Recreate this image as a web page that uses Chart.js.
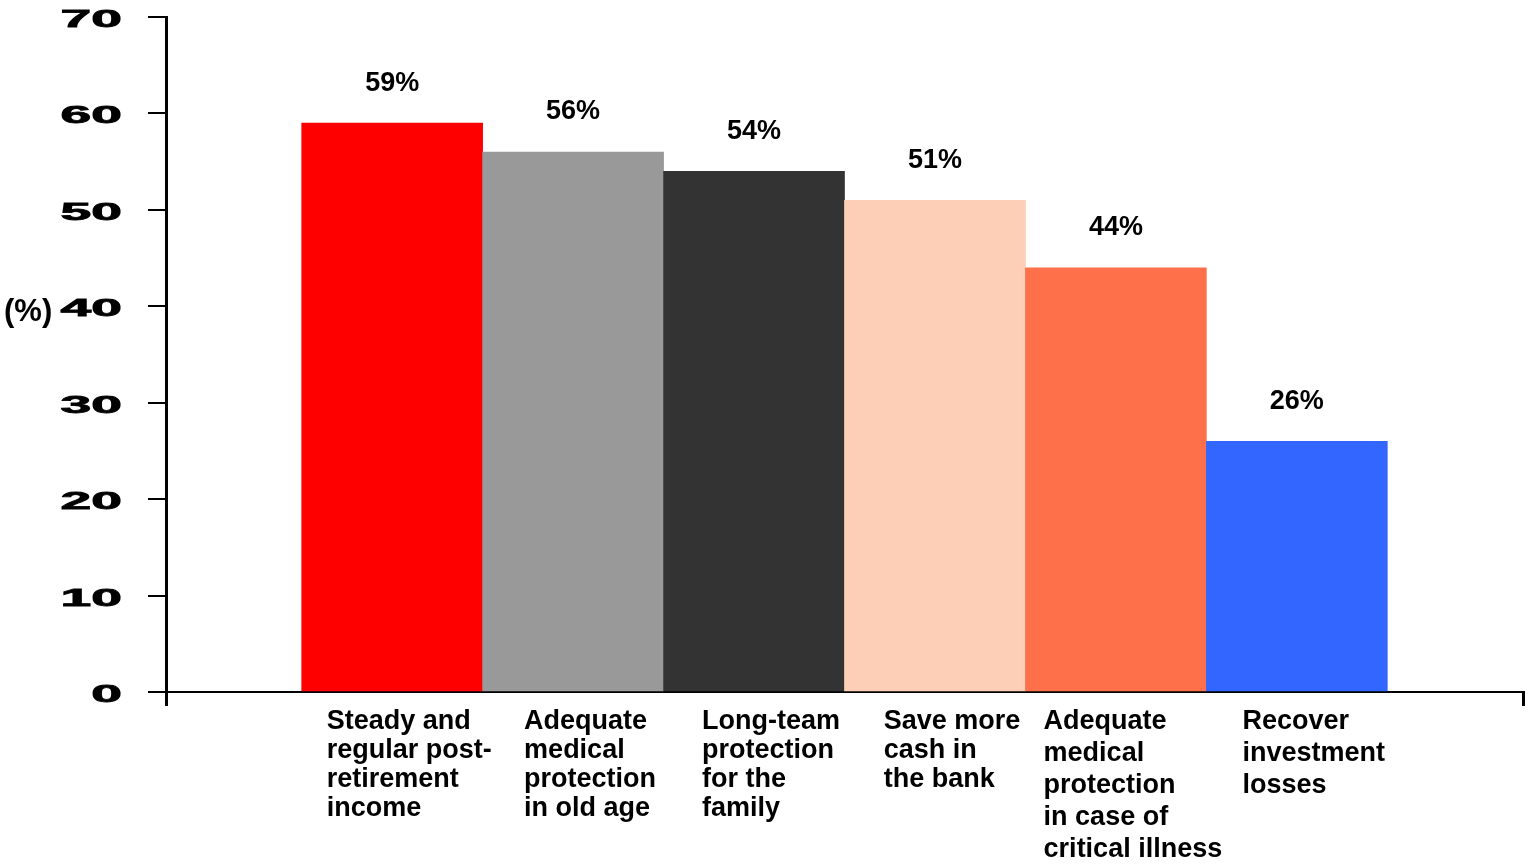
<!DOCTYPE html>
<html>
<head>
<meta charset="utf-8">
<script src="https://cdn.jsdelivr.net/npm/chart.js@4"></script>
<style>
  html, body { margin: 0; padding: 0; background: #fff; }
  #wrap { width: 1529px; height: 867px; }
</style>
</head>
<body>
<div id="wrap"><canvas id="goalsChart"></canvas></div>
<script>
const categories = [
  ["Steady and", "regular post-", "retirement", "income"],
  ["Adequate", "medical", "protection", "in old age"],
  ["Long-team", "protection", "for the", "family"],
  ["Save more", "cash in", "the bank"],
  ["Adequate", "medical", "protection", "in case of", "critical illness"],
  ["Recover", "investment", "losses"],
];
const shares = [59, 56, 54, 51, 44, 26];
const yTicks = [0, 10, 20, 30, 40, 50, 60, 70];
const barColors = ["#ff0000", "#999999", "#333333", "#fdcfb7", "#fd704a", "#3366ff"];

const fontFamily = '"Liberation Sans", Arial, Helvetica, sans-serif';
const labelLeading = [29, 29, 29, 29, 32, 32];

// tick numbers, value labels, category captions and the unit label
const textPlugin = {
  id: "chartText",
  afterDraw(chart) {
    const ctx = chart.ctx;
    const yScale = chart.scales.y;
    const area = chart.chartArea;
    ctx.save();
    ctx.fillStyle = "#000";
    ctx.strokeStyle = "#000";

    // wide y tick numbers
    ctx.font = "bold 24px " + fontFamily;
    ctx.textAlign = "right";
    ctx.textBaseline = "alphabetic";
    ctx.lineWidth = 0.8;
    yTicks.forEach((v) => {
      const y = yScale.getPixelForValue(v);
      ctx.save();
      ctx.translate(122, y + 10);
      ctx.scale(2.3, 1);
      ctx.fillText(String(v), 0, 0);
      ctx.strokeText(String(v), 0, 0);
      ctx.restore();
    });

    // unit
    ctx.font = "bold 31px " + fontFamily;
    ctx.textAlign = "left";
    ctx.textBaseline = "middle";
    ctx.fillText("(%)", 4, yScale.getPixelForValue(40) + 6);

    // value labels above bars
    const bars = chart.getDatasetMeta(0).data;
    ctx.font = "bold 27px " + fontFamily;
    ctx.textAlign = "center";
    ctx.textBaseline = "middle";
    bars.forEach((bar, i) => {
      ctx.fillText(shares[i] + "%", bar.x, bar.y - 40);
    });

    // category captions, left aligned block under each bar
    ctx.textAlign = "left";
    bars.forEach((bar, i) => {
      const lines = categories[i];
      const w = Math.max(...lines.map((l) => ctx.measureText(l).width));
      const left = bar.x + 17 - w / 2;
      lines.forEach((line, j) => {
        ctx.fillText(line, left, area.bottom + 30 + j * labelLeading[i]);
      });
    });
    ctx.restore();
  },
};

const ctx = document.getElementById("goalsChart");
const goalsChart = new Chart(ctx, {
  type: "bar",
  data: {
    datasets: [
      {
        data: shares.map((v, i) => ({ x: i, y: v })),
        backgroundColor: barColors,
        borderWidth: 0,
        barPercentage: 1,
        categoryPercentage: 1,
      },
    ],
  },
  options: {
    responsive: true,
    maintainAspectRatio: false,
    animation: false,
    layout: {
      padding: { left: 148, right: 6, top: 17, bottom: 161 },
    },
    scales: {
      x: {
        type: "linear",
        offset: false,
        min: -1.25,
        max: 6.25,
        afterBuildTicks(scale) {
          scale.ticks = [{ value: -1.25 }, { value: 6.25 }];
        },
        ticks: { display: false },
        grid: {
          offset: false,
          drawOnChartArea: false,
          drawTicks: true,
          tickLength: 14,
          color: "#000",
          lineWidth: 3,
        },
        border: { display: true, color: "#000", width: 2 },
      },
      y: {
        min: 0,
        max: 70,
        ticks: { display: false, stepSize: 10 },
        grid: {
          drawOnChartArea: false,
          drawTicks: true,
          tickLength: 18,
          color: "#000",
          lineWidth: 2,
        },
        border: { display: true, color: "#000", width: 3 },
      },
    },
    plugins: {
      legend: { display: false },
      tooltip: { enabled: false },
    },
  },
  plugins: [textPlugin],
});
</script>
</body>
</html>
